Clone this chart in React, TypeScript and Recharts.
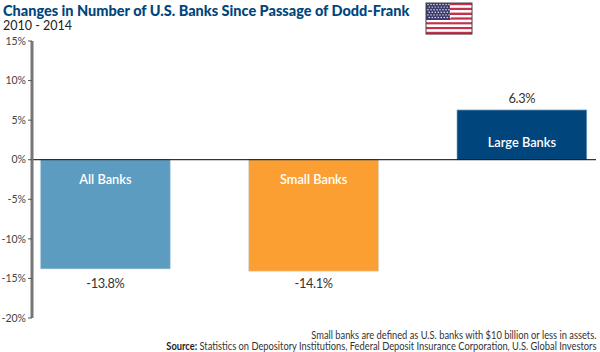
import React from "react";
import { BarChart, Bar, Cell, XAxis, YAxis, ReferenceLine, LabelList } from "recharts";

const categories = ["All Banks", "Small Banks", "Large Banks"];
const changes = [-13.8, -14.1, 6.3];
const barColors = ["#5b9cc0", "#fb9f33", "#00457c"];
const yTicks = [15, 10, 5, 0, -5, -10, -15, -20];

const data = categories.map((name, i) => ({ name, value: changes[i] }));

const FONT = "Lato, sans-serif";

const ValueLabel = (props: any) => {
  const { x, y, width, height, value } = props;
  const cx = x + width / 2;
  const bottom = y + height;
  const top = Math.min(y, bottom);
  // both negative labels sit on one line in the reference
  const ty = value < 0 ? 284.5 : top - 10;
  return (
    <text x={cx} y={ty} textAnchor="middle" dominantBaseline="middle" fontFamily={FONT} fontSize={12.8} letterSpacing={-0.35} fill="#333">
      {`${value.toFixed(1)}%`}
    </text>
  );
};

const NameLabel = (props: any) => {
  const { x, y, width, height, value, index } = props;
  const cx = x + width / 2;
  const zero = changes[index] < 0 ? Math.min(y, y + height) : Math.max(y, y + height);
  const ty = changes[index] < 0 ? zero + 21.5 : zero - 16;
  return (
    <text x={cx} y={ty} textAnchor="middle" dominantBaseline="middle" fontFamily={FONT} fontSize={12.8} fontWeight={600} fill="#fff">
      {value}
    </text>
  );
};

const Flag = () => {
  const stripes = [];
  for (let i = 0; i < 13; i++) {
    stripes.push(<rect key={i} x={426} y={3 + i * 2.4} width={46} height={2.4} fill={i % 2 ? "#fff" : "#c4314b"} />);
  }
  const stars = [];
  for (let r = 0; r < 6; r++) {
    for (let c = 0; c < 8; c++) {
      stars.push(<circle key={`${r}-${c}`} cx={428 + c * 3 + (r % 2) * 1.2} cy={4.5 + r * 2.6} r={0.7} fill="#fff" />);
    }
  }
  return (
    <svg width={600} height={40} style={{ position: "absolute", left: 0, top: 0 }}>
      {stripes}
      <rect x={426} y={3} width={24} height={17} fill="#3c3b6e" />
      {stars}
      <rect x={426} y={3} width={46} height={31} fill="none" stroke="#444" strokeWidth={1} />
    </svg>
  );
};

export default function App() {
  return (
    <div style={{ position: "absolute", left: 0, top: 0, width: 600, height: 352, background: "#fff", overflow: "hidden" }}>
      <div style={{ position: "absolute", left: 3, top: 0, fontFamily: FONT, fontWeight: 900, fontSize: 15.5, transform: "scaleX(0.935)", transformOrigin: "left", color: "#00457c", whiteSpace: "nowrap", lineHeight: "20px" }}>
        Changes in Number of U.S. Banks Since Passage of Dodd-Frank
      </div>
      <div style={{ position: "absolute", left: 3, top: 18, fontFamily: FONT, fontSize: 12.5, color: "#222", whiteSpace: "nowrap", lineHeight: "16px" }}>
        2010 - 2014
      </div>
      <Flag />
      <BarChart
        width={600}
        height={352}
        data={data}
        margin={{ top: 41, right: 4, bottom: 34, left: 0 }}
        style={{ position: "absolute", left: 0, top: 0 }}
      >
        <YAxis
          width={32}
          domain={[-20, 15]}
          ticks={yTicks}
          interval={0}
          tickFormatter={(v: number) => `${v}%`}
          axisLine={{ stroke: "#777", strokeWidth: 3 }}
          tickLine={{ stroke: "#555", strokeWidth: 1 }}
          tickSize={4}
          tick={{ fontFamily: FONT, fontSize: 10.5, fill: "#444" }}
        />
        <XAxis dataKey="name" scale="point" padding={{ left: 73.5, right: 74 }} hide />
        <Bar dataKey="value" barSize={130} stroke="#cfe0ea" strokeWidth={0.6} isAnimationActive={false}>
          {data.map((d, i) => (
            <Cell key={d.name} fill={barColors[i]} />
          ))}
          <LabelList dataKey="value" content={<ValueLabel />} />
          <LabelList dataKey="name" content={<NameLabel />} />
        </Bar>
        <ReferenceLine y={0} stroke="#000" strokeWidth={1} />
      </BarChart>
      <div style={{ position: "absolute", right: 4, top: 330, textAlign: "right", fontFamily: FONT, fontSize: 10.5, transform: "scaleX(0.886)", transformOrigin: "right", lineHeight: "11px", color: "#333", whiteSpace: "nowrap" }}>
        Small banks are defined as U.S. banks with $10 billion or less in assets.
        <br />
        <b style={{ color: "#222" }}>Source:</b> Statistics on Depository Institutions, Federal Deposit Insurance Corporation, U.S. Global Investors
      </div>
    </div>
  );
}
